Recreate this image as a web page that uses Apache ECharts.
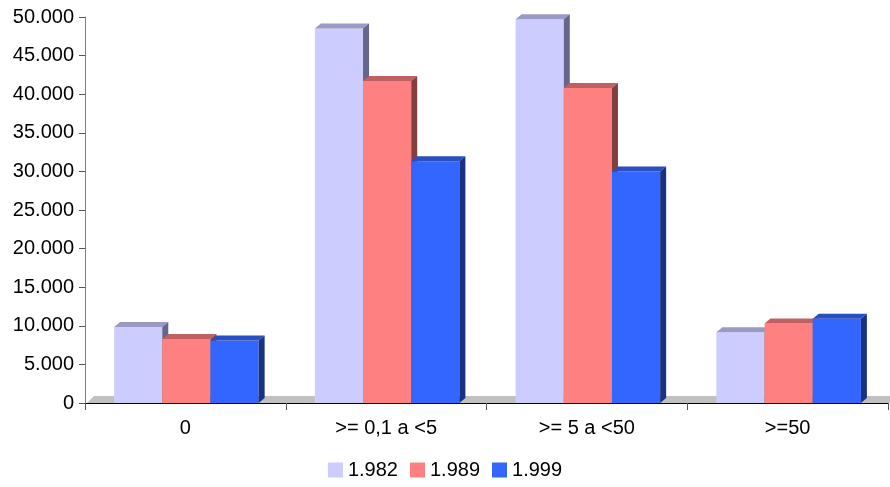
<!DOCTYPE html>
<html>
<head>
<meta charset="utf-8">
<script src="https://cdn.jsdelivr.net/npm/echarts@6/dist/echarts.min.js"></script>
<style>
html,body{margin:0;padding:0;background:#fff;}
#main{width:890px;height:487px;}
</style>
</head>
<body>
<div id="main"></div>
<script>
const categories = ['0', '>= 0,1 a <5', '>= 5 a <50', '>=50'];
const seriesNames = ['1.982', '1.989', '1.999'];
const values1982 = [9850, 48500, 49700, 9150];
const values1989 = [8300, 41700, 40800, 10300];
const values1999 = [8100, 31300, 30000, 10900];
const yTicks = { min: 0, max: 50000, interval: 5000 };

const seriesValues = [values1982, values1989, values1999];
const frontColors = ['#CCCCFF', '#FF8080', '#3366FF'];
const topColors = ['#9A9AC4', '#C06060', '#2A4FC0'];
const sideColors = ['#66668A', '#804040', '#1A3380'];

const DX = 6, DY = 5;
const BAR_FRAC = 0.24;

function fmt(v) {
  return String(v).replace(/\B(?=(\d{3})+(?!\d))/g, '.');
}

function makeBarSeries(si) {
  return {
    name: seriesNames[si],
    type: 'custom',
    clip: false,
    z: 3,
    itemStyle: { color: frontColors[si] },
    encode: { x: 0, y: 1 },
    data: seriesValues[si].map((v, i) => [i, v]),
    renderItem: function (params, api) {
      const ci = api.value(0);
      const val = api.value(1);
      const top = api.coord([ci, val]);
      const base = api.coord([ci, 0]);
      const bw = api.size([1, 0])[0];
      const w = bw * BAR_FRAC;
      const x0 = top[0] - 1.5 * w + si * w + 1;
      const yT = top[1], yB = base[1];
      return {
        type: 'group',
        children: [
          { type: 'rect', shape: { x: x0, y: yT, width: w, height: yB - yT }, style: { fill: frontColors[si] } },
          { type: 'polygon', shape: { points: [[x0, yT], [x0 + w, yT], [x0 + w + DX, yT - DY], [x0 + DX, yT - DY]] }, style: { fill: topColors[si] } },
          { type: 'polygon', shape: { points: [[x0 + w, yT], [x0 + w + DX, yT - DY], [x0 + w + DX, yB - DY], [x0 + w, yB]] }, style: { fill: sideColors[si] } }
        ]
      };
    }
  };
}

const floorSeries = {
  name: 'floor',
  type: 'custom',
  clip: false,
  z: 1,
  silent: true,
  data: [[0, 0]],
  encode: { x: 0, y: 1 },
  renderItem: function (params, api) {
    const cs = params.coordSys;
    const yB = cs.y + cs.height;
    return {
      type: 'polygon',
      shape: { points: [[cs.x + 2, yB], [cs.x + cs.width + 4, yB], [cs.x + cs.width + 4, yB - 7], [cs.x + 9, yB - 7]] },
      style: { fill: '#C0C0C0' }
    };
  }
};

const chart = echarts.init(document.getElementById('main'));
chart.setOption({
  animation: false,
  backgroundColor: '#fff',
  textStyle: { fontFamily: 'Liberation Sans, Arial, sans-serif' },
  grid: { left: 85, right: 2, top: 17, bottom: 84, containLabel: false },
  legend: {
    data: seriesNames,
    top: 455,
    left: 'center',
    itemWidth: 15,
    itemHeight: 15,
    itemGap: 12,
    icon: 'rect',
    textStyle: { fontSize: 20, color: '#000', fontFamily: 'Liberation Sans, Arial, sans-serif' }
  },
  xAxis: {
    type: 'category',
    data: categories,
    axisLine: { lineStyle: { color: '#000', width: 1 } },
    axisTick: { show: true, length: 7, alignWithLabel: false, lineStyle: { color: '#555' } },
    axisLabel: { fontSize: 20, color: '#000', margin: 15 },
    splitLine: { show: false }
  },
  yAxis: {
    type: 'value',
    min: yTicks.min,
    max: yTicks.max,
    interval: yTicks.interval,
    axisLine: { show: true, lineStyle: { color: '#808080' } },
    axisTick: { show: true, length: 6, lineStyle: { color: '#555' } },
    axisLabel: { fontSize: 20, color: '#000', margin: 11, formatter: fmt },
    splitLine: { show: false }
  },
  series: [floorSeries, makeBarSeries(0), makeBarSeries(1), makeBarSeries(2)]
});
</script>
</body>
</html>
